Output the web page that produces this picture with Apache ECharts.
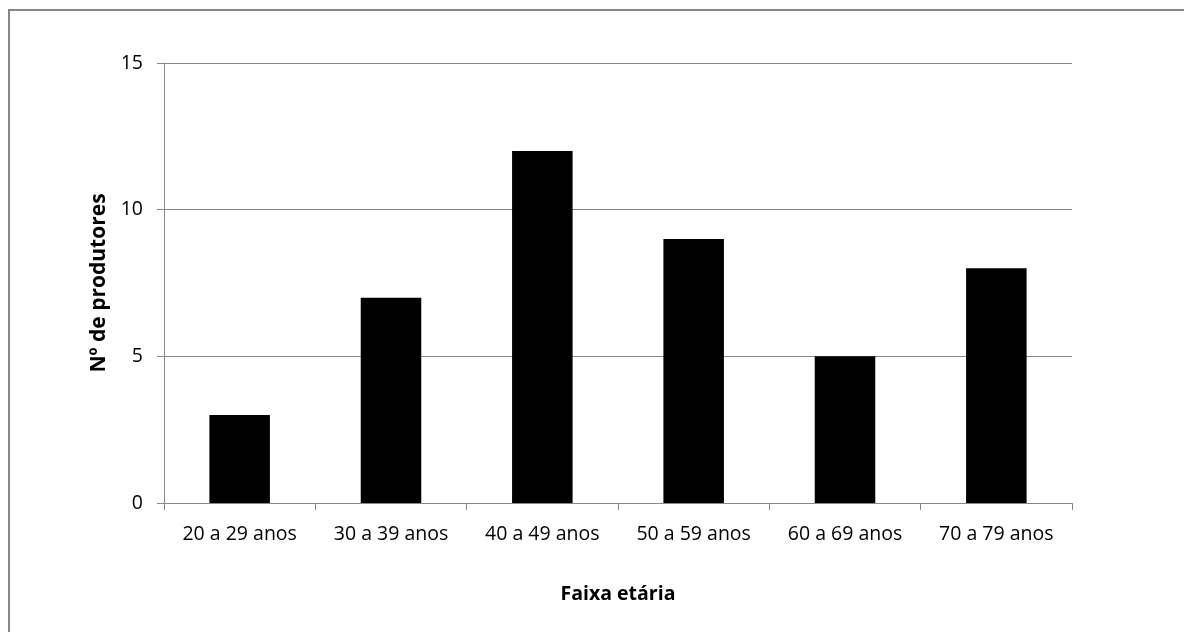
<!DOCTYPE html>
<html><head><meta charset="utf-8">
<script src="https://cdn.jsdelivr.net/npm/echarts@6/dist/echarts.min.js"></script>
<style>html,body{margin:0;padding:0;background:#fff}#c{width:1184px;height:632px}</style>
</head><body><div id="c"></div>
<script>
const categories = ['20 a 29 anos','30 a 39 anos','40 a 49 anos','50 a 59 anos','60 a 69 anos','70 a 79 anos'];
const values = [3, 7, 12, 9, 5, 8];
const yTicks = [0, 5, 10, 15];
const yTitle = 'Nº de produtores';
const xTitle = 'Faixa etária';

const font = "Open Sans";
const chart = echarts.init(document.getElementById('c'), null, {renderer:'canvas'});
chart.setOption({
  animation:false,
  backgroundColor:'#fff',
  graphic:[{type:'rect', shape:{x:9,y:10,width:1200,height:640}, style:{fill:'none', stroke:'#868686', lineWidth:2}, silent:true}],
  grid:{left:164, right:112, top:63, bottom:129, containLabel:false},
  xAxis:{type:'category', data:categories, boundaryGap:true,
    name:xTitle, nameLocation:'middle', nameGap:81,
    nameTextStyle:{fontFamily:font, fontWeight:'bold', fontSize:19.5, color:'#000'},
    axisLine:{lineStyle:{color:'#888', width:1}},
    axisTick:{show:true, length:7, lineStyle:{color:'#888'}, alignWithLabel:false},
    axisLabel:{fontFamily:font, fontSize:19.5, color:'#000', margin:21}},
  yAxis:{type:'value', min:yTicks[0], max:yTicks[yTicks.length-1], interval:5,
    name:yTitle, nameLocation:'middle', nameGap:53, nameRotate:90,
    nameTextStyle:{fontFamily:font, fontWeight:'bold', fontSize:21, color:'#000'},
    axisLine:{show:true, lineStyle:{color:'#888'}},
    axisTick:{show:true, length:7, lineStyle:{color:'#888'}},
    splitLine:{lineStyle:{color:'#888', width:1}},
    axisLabel:{fontFamily:font, fontSize:19.5, color:'#000', margin:21}},
  series:[{type:'bar', data:values, barWidth:'40%', itemStyle:{color:'#000'}}]
});
</script></body></html>
